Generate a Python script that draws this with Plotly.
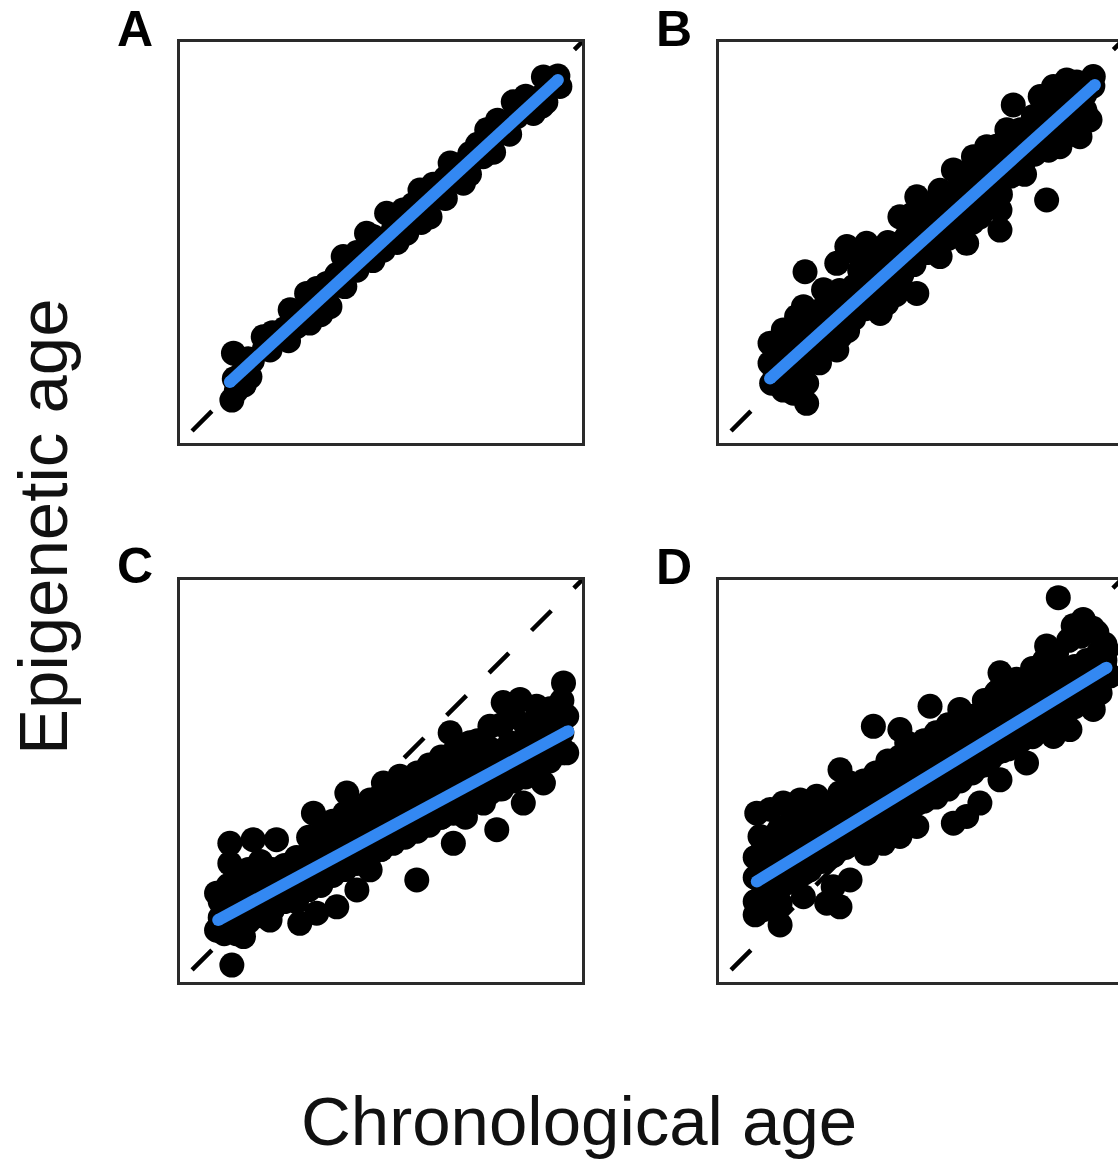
import plotly.graph_objects as go

# ---------------- data (arbitrary age units, 0-100 on both axes) ----------------
a_x = [13.3, 20.7, 27.4, 31.5, 36.5, 40.6, 46.4, 51.4, 55.5, 59.7, 67.2, 72.1, 76.3, 82.9, 90.4,
       12.9, 17.4, 22.4, 29.0, 32.3, 37.3, 44.0, 50.6, 56.4, 62.2, 70.5, 75.4, 83.8, 87.9, 94.5,
       13.5, 15.5, 18, 21, 24, 26, 29, 32, 34.5, 38, 41, 43, 46, 49, 53, 57, 61, 64, 66, 69, 73, 78,
       80, 85, 89, 92, 94, 91, 86, 79, 74, 70, 63, 58, 54, 48, 44, 39, 34, 28, 23, 17, 16, 14, 27,
       35, 41, 48, 54, 60, 66, 72, 78, 82, 90]
a_y = [22.4, 26.5, 33.2, 37.3, 39.8, 46.5, 52.3, 57.3, 58.1, 63.1, 69.8, 72.2, 78.1, 85.1, 91.3,
       10.7, 16.5, 23.2, 29.0, 29.9, 34.0, 43.1, 48.1, 52.3, 56.4, 64.8, 71.4, 81.4, 82.2, 88.9,
       16.0, 17.5, 20.5, 23.5, 26.0, 28.5, 31.0, 34.0, 36.0, 39.0, 42.0, 44.0, 47.0, 49.5, 53.0, 56.5,
       60.0, 62.5, 66.0, 68.0, 71.0, 76.0, 78.5, 83.0, 86.0, 89.5, 91.5, 85.0, 86.5, 80.5, 74.5, 69.5,
       64.5, 59.5, 56.0, 51.5, 47.5, 42.0, 38.5, 31.5, 27.5, 21.0, 14.5, 13.0, 25.5, 32.0, 39.0, 45.5,
       50.0, 55.0, 61.0, 67.0, 72.5, 77.0, 84.0]
a_fit_x = [12.4, 94.0]
a_fit_y = [15.2, 90.5]

b_x = [12.7, 12.7, 13.1, 16.0, 18.5, 21.8, 21.8, 20.1, 16.8, 16.0, 19.3, 21.0, 23.5, 26.8, 29.3, 30.1,
       21.4, 26.0, 29.3, 31.8, 34.2, 36.7, 38.4, 35.1, 40.9, 36.7, 40.1, 41.7, 45.0, 46.7, 49.2, 50.0,
       49.2, 53.3, 53.3, 55.0, 58.3, 58.3, 60.0, 61.6, 63.3, 64.1, 64.9, 66.6, 68.2, 69.9, 69.9, 71.6,
       73.2, 74.9, 76.5, 78.2, 79.9, 81.5, 83.2, 83.2, 84.8, 86.5, 88.1, 89.8, 90.6, 93.1, 92.3,
       14, 16, 19, 22, 25, 28, 31, 34, 37, 40, 43, 46, 49, 52, 55, 58, 61, 64, 67, 70, 73, 76, 79, 82,
       85, 88, 91, 93,
       30, 35, 42, 48, 55, 60, 66, 72, 78, 86, 25, 39, 52, 63, 69, 81, 89,
       25, 32, 38, 45, 52, 57, 63, 70, 76, 82, 88, 91, 44,
       15.5, 15.5, 18.5, 18.5, 21.5, 21.5, 24.5, 24.5, 27.5, 27.5, 30.5, 30.5, 33.5, 33.5, 36.5, 36.5,
       39.5, 39.5, 42.5, 42.5, 45.5, 45.5, 48.5, 48.5, 51.5, 51.5, 54.5, 54.5, 57.5, 57.5, 60.5, 60.5,
       63.5, 63.5, 66.5, 66.5, 69.5, 69.5, 72.5, 72.5, 75.5, 75.5, 78.5, 78.5, 81.5, 81.5, 84.5, 84.5,
       87.5, 87.5, 90.5, 90.5]
b_y = [24.9, 19.9, 14.9, 13.2, 12.4, 9.9, 14.9, 19.9, 23.2, 28.2, 31.5, 34.0, 23.2, 24.0, 23.2, 26.5,
       42.7, 38.2, 44.8, 49.0, 47.3, 49.8, 44.8, 39.8, 39.8, 34.8, 32.3, 34.8, 56.4, 51.5, 61.4, 53.1,
       37.3, 59.8, 51.5, 46.5, 68.1, 59.8, 53.1, 49.8, 71.4, 63.1, 56.4, 73.9, 67.3, 58.1, 53.1, 78.1,
       84.3, 78.1, 71.4, 81.4, 86.4, 60.6, 88.9, 78.9, 73.9, 90.5, 82.2, 76.4, 86.4, 91.4, 80.6,
       17, 19, 22, 25, 28, 30, 33, 36, 39, 41, 44, 47, 50, 52, 55, 57, 60, 62, 65, 68, 71, 73, 76, 79,
       82, 85, 87, 89,
       38, 43, 50, 57, 63, 66, 71, 76, 80, 88, 33, 46, 58, 68, 74, 84, 90,
       20, 28, 34, 40, 47.5, 51, 55, 62, 67, 73, 77, 83, 37,
       22.5, 14.5, 25.5, 17.5, 28, 20, 31, 23, 33.5, 25.5, 36, 28, 39, 31, 41.5, 33.5,
       44.5, 36.5, 47, 39, 50, 42, 52.5, 44.5, 55.5, 47.5, 58, 50, 60.5, 53, 63.5, 55.5,
       66, 58, 69, 61, 71.5, 64, 74.5, 66.5, 77, 69, 79.5, 72, 82.5, 75, 85, 77.5,
       88, 80, 89.5, 82.5]
b_fit_x = [12.7, 93.5]
b_fit_y = [16.1, 89.3]

c_x = [12.9, 9.1, 9.1, 12.4, 18.2, 24.0, 12.4, 15.8, 22.4, 29.8, 34.0, 39.0, 33.2, 41.5, 47.3, 50.6,
       54.7, 58.9, 47.3, 44.0, 63.8, 67.2, 68.0, 72.1, 75.5, 78.8, 80.4, 84.6, 85.4, 88.7, 90.4, 95.4,
       96.2, 96.2, 92.9, 82.1, 77.1, 87.9,
       10, 10, 12, 12, 12, 14, 14, 14, 17, 17, 17, 20, 20, 20, 23, 23, 23, 26, 26, 26, 29, 29, 29,
       32, 32, 32, 35, 35, 35, 38, 38, 38, 41, 41, 41, 44, 44, 44, 47, 47, 47, 50, 50, 50, 53, 53, 53,
       56, 56, 56, 59, 59, 59, 62, 62, 62, 65, 65, 65, 68, 68, 68, 71, 71, 71, 74, 74, 74, 77, 77, 77,
       80, 80, 80, 83, 83, 83, 86, 86, 86, 89, 89, 89, 92, 92, 92, 95, 95, 95,
       11, 11, 14, 14, 17, 17, 20, 20, 23, 23, 26, 26, 29, 29, 32, 32, 35, 35, 38, 38, 41, 41, 44, 44,
       47, 47, 50, 50, 53, 53, 56, 56, 59, 59, 62, 62, 65, 65, 68, 68, 71, 71, 74, 74, 77, 77, 80, 80,
       83, 83, 86, 86, 89, 89, 92, 92, 95, 95]
c_y = [4.2, 12.9, 22.1, 34.5, 35.4, 35.4, 29.5, 11.3, 15.4, 14.6, 17.1, 18.7, 42.0, 47.0, 45.3, 49.5,
       51.2, 25.4, 27.9, 22.9, 53.7, 62.0, 34.5, 59.5, 44.5, 37.9, 69.5, 70.3, 44.5, 68.6, 49.5, 74.4,
       66.1, 57.0, 59.5, 59.5, 63.6, 54.5,
       16, 20, 18, 24, 14, 17, 26, 12, 21, 28, 16, 24, 30, 17, 22, 28, 19, 25, 29, 21, 27, 31, 20,
       27, 36, 23, 30, 37, 24, 32, 40, 27, 33, 42, 28, 35, 43, 30, 37, 41, 32, 38, 46, 33, 40, 47, 35,
       41, 50, 37, 43, 52, 38, 44, 54, 40, 46, 56, 41, 48, 57, 42, 49, 55, 41, 51, 60, 46, 52, 58, 47,
       53, 64, 48, 55, 66, 50, 57, 64, 51, 58, 63, 55, 60, 68, 55, 62, 70, 58,
       20.5, 12, 22, 13.5, 23.5, 15, 25, 16.5, 27, 18, 28, 20, 30, 21.5, 32, 23, 33, 24.5, 35, 26.5,
       36.5, 28, 38, 29.5, 40, 31, 41.5, 33, 43, 34.5, 44.5, 36, 46, 37.5, 48, 39, 49.5, 41, 51, 42.5,
       52.5, 44, 54.5, 46, 56, 47.5, 57.5, 49, 59, 50.5, 61, 52, 62.5, 54, 64, 55.5, 66, 57]
c_fit_x = [9.5, 96.6]
c_fit_y = [15.4, 62.4]

d_x = [9.0, 15.2, 15.2, 21.0, 26.8, 30.1, 32.6, 28.4, 22.6,
       9.4, 12.7, 10.2, 11.0, 16.0, 20.2, 24.3, 30.1, 32.6, 38.4, 45.0, 46.7, 52.5, 59.9, 63.3, 69.9,
       69.9, 74.0, 81.5, 84.4, 90.6, 88.1, 94.0, 96.4, 97.3,
       36.7, 40.9, 45.0, 49.2, 58.3, 61.6, 64.9, 69.9, 76.5, 87.3, 93.1, 94.8, 83.2,
       9, 9, 9, 11, 11, 11, 13, 13, 13, 15, 15, 15, 18, 18, 18, 21, 21, 21, 24, 24, 24, 27, 27, 27,
       30, 30, 30, 33, 33, 33, 36, 36, 36, 39, 39, 39, 42, 42, 42, 45, 45, 45, 48, 48, 48, 51, 51, 51,
       54, 54, 54, 57, 57, 57, 60, 60, 60, 63, 63, 63, 66, 66, 66, 69, 69, 69, 72, 72, 72, 75, 75, 75,
       78, 78, 78, 81, 81, 81, 84, 84, 84, 87, 87, 87, 90, 90, 90, 93, 93, 93, 96, 96, 96,
       10.5, 10.5, 13.5, 13.5, 16.5, 16.5, 19.5, 19.5, 22.5, 22.5, 25.5, 25.5, 28.5, 28.5, 31.5, 31.5,
       34.5, 34.5, 37.5, 37.5, 40.5, 40.5, 43.5, 43.5, 46.5, 46.5, 49.5, 49.5, 52.5, 52.5, 55.5, 55.5,
       58.5, 58.5, 61.5, 61.5, 64.5, 64.5, 67.5, 67.5, 70.5, 70.5, 73.5, 73.5, 76.5, 76.5, 79.5, 79.5,
       82.5, 82.5, 85.5, 85.5, 88.5, 88.5, 91.5, 91.5, 94.5, 94.5]
d_y = [16.7, 14.2, 19.6, 21.2, 19.6, 18.7, 25.4, 23.7, 27.9,
       42.0, 42.9, 36.2, 29.5, 44.5, 45.3, 46.2, 52.8, 49.5, 63.6, 62.8, 59.5, 68.6, 67.8, 66.1, 76.9,
       72.8, 75.3, 83.6, 95.6, 90.2, 88.6, 86.9, 82.7, 76.1,
       32.0, 34.5, 36.2, 38.7, 39.5, 41.2, 44.5, 50.3, 54.5, 62.8, 67.8, 71.9, 61.1,
       20, 26, 31, 24, 33, 18, 27, 36, 22, 29, 38, 24, 30, 40, 26, 32, 41, 27, 34, 43, 30, 36, 44, 31,
       37, 47, 33, 40, 46, 35, 42, 50, 37, 43, 52, 38, 45, 55, 40, 47, 56, 41, 49, 58, 44, 50, 60, 45,
       52, 62, 46, 54, 64, 48, 56, 66, 50, 58, 65, 52, 60, 70, 54, 62, 72, 57, 63, 74, 58, 65, 75, 60,
       67, 78, 61, 69, 80, 63, 71, 82, 66, 72, 85, 68, 74, 86, 70, 76, 88, 72, 78, 84, 80,
       31, 20.5, 32.5, 22.5, 34.5, 24.5, 36, 26, 38, 28, 40, 30, 41.5, 31.5, 43.5, 33.5,
       45.5, 35.5, 47, 37, 49, 39, 51, 41, 52.5, 42.5, 54.5, 44.5, 56.5, 46.5, 58, 48,
       60, 50, 62, 52, 63.5, 53.5, 65.5, 55.5, 67.5, 57.5, 69, 59, 71, 61, 73, 63,
       74.5, 64.5, 76.5, 66.5, 78.5, 68.5, 80, 70, 82, 72]
d_fit_x = [9.4, 96.4]
d_fit_y = [25.0, 78.2]

identity_x = [3, 102]
identity_y = [3, 102]

panel_labels = ["A", "B", "C", "D"]
x_title = "Chronological age"
y_title = "Epigenetic age"

# ---------------- layout / styling ----------------
W, H = 1118, 1160
BLUE = "#3388F2"
FRAME = "#2a2a2a"
FONT = "Liberation Sans, Arial, Helvetica, sans-serif"

# pixel boxes (left, right, top, bottom) of the four panels
boxes = [(180, 582, 42, 443), (719, 1121, 42, 443), (180, 582, 580, 982), (719, 1121, 580, 982)]
label_pos = [(135, 29), (674, 29), (135, 566), (674, 567)]

series = [(a_x, a_y, a_fit_x, a_fit_y), (b_x, b_y, b_fit_x, b_fit_y),
          (c_x, c_y, c_fit_x, c_fit_y), (d_x, d_y, d_fit_x, d_fit_y)]

fig = go.Figure()
layout = dict(width=W, height=H, margin=dict(l=0, r=0, t=0, b=0),
              paper_bgcolor="white", plot_bgcolor="white", showlegend=False,
              hovermode=False)
annotations = []

for i, ((px, py, fx, fy), (l, r, t, b)) in enumerate(zip(series, boxes)):
    n = "" if i == 0 else str(i + 1)
    xa, ya = "x" + n, "y" + n
    rr = min(r, W)
    xmax = 100.0 * (rr - l) / (r - l)
    layout["xaxis" + n] = dict(domain=[l / W, rr / W], range=[0, xmax], anchor=ya,
                               showgrid=False, zeroline=False, showticklabels=False, ticks="",
                               showline=True, mirror=True, linecolor=FRAME, linewidth=3)
    layout["yaxis" + n] = dict(domain=[1 - b / H, 1 - t / H], range=[0, 100], anchor=xa,
                               showgrid=False, zeroline=False, showticklabels=False, ticks="",
                               showline=True, mirror=(r <= W), linecolor=FRAME, linewidth=3)
    fig.add_trace(go.Scatter(x=identity_x, y=identity_y, mode="lines", xaxis=xa, yaxis=ya,
                             line=dict(color="black", width=4.5, dash="28px,32px")))
    fig.add_trace(go.Scatter(x=px, y=py, mode="markers", xaxis=xa, yaxis=ya,
                             marker=dict(size=25, color="black", line=dict(width=0))))
    fig.add_trace(go.Scatter(x=fx, y=fy, mode="lines+markers", xaxis=xa, yaxis=ya,
                             line=dict(color=BLUE, width=12),
                             marker=dict(size=12, color=BLUE, line=dict(width=0))))
    lx, ly = label_pos[i]
    annotations.append(dict(text="<b>" + panel_labels[i] + "</b>", x=lx / W, y=1 - ly / H,
                            xref="paper", yref="paper", showarrow=False,
                            xanchor="center", yanchor="middle",
                            font=dict(family=FONT, size=50, color="black")))

annotations.append(dict(text=x_title, x=579 / W, y=1 - 1121 / H, xref="paper", yref="paper",
                        showarrow=False, xanchor="center", yanchor="middle",
                        font=dict(family=FONT, size=69, color="#111111")))
annotations.append(dict(text=y_title, x=43 / W, y=1 - 527 / H, xref="paper", yref="paper",
                        showarrow=False, xanchor="center", yanchor="middle", textangle=-90,
                        font=dict(family=FONT, size=69, color="#111111")))
layout["annotations"] = annotations
fig.update_layout(**layout)
fig.write_html("out.html", config={"displayModeBar": False, "staticPlot": True},
               post_script="document.body.style.margin='0';document.body.style.overflow='hidden';")
